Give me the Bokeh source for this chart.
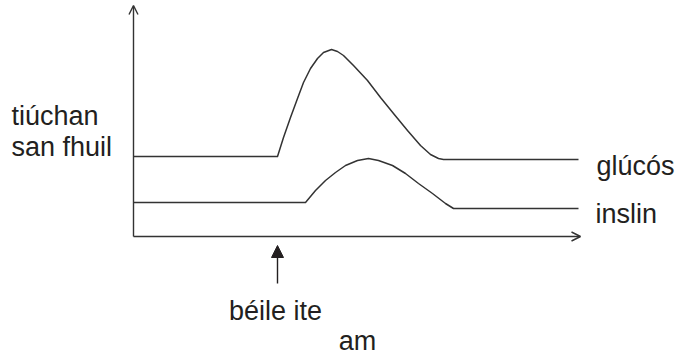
from bokeh.plotting import figure
from bokeh.models import Range1d, Arrow, OpenHead, NormalHead
from bokeh.core.properties import value
from bokeh.embed import file_html
from bokeh.resources import INLINE

# ---- data (time units / concentration units) ----
glucose_time = [0, 144, 150, 157, 164, 170, 177, 184, 190, 198, 204, 210, 220, 234,
                247, 260, 274, 287, 297, 305, 310, 445]
glucose_level = [80, 80, 99, 119, 138, 154, 168, 178, 184, 187, 185, 181, 171, 156,
                 139, 123, 106, 91, 82, 78, 77, 77]

insulin_time = [0, 172, 182, 192, 202, 212, 224, 235, 245, 259, 272, 285, 299, 312, 320, 445]
insulin_level = [34, 34, 46, 56, 64, 71, 76, 78, 76, 71, 63, 53, 43, 33, 28, 28]

series_names = ["glúcós", "inslin"]
y_label_lines = ["tiúchan", "san fhuil"]
x_label = "am"
meal_label = "béile ite"
meal_time = 144

axis_end_time = 447
axis_end_level = 231

LINE = "#333333"
TEXT = "#231f20"
FONT = value("Liberation Sans")
FS = value("27px")

p = figure(width=675, height=354, output_backend="svg", toolbar_location=None,
           x_axis_type=None, y_axis_type=None, min_border=0,
           x_range=Range1d(-133, 542), y_range=Range1d(-118, 236))
p.grid.visible = False
p.outline_line_color = None
p.background_fill_color = "white"
p.border_fill_color = "white"

# axes drawn as arrows
p.add_layout(Arrow(end=OpenHead(size=9, line_color=LINE, line_width=1.4),
                   x_start=0, y_start=0, x_end=0, y_end=axis_end_level,
                   line_color=LINE, line_width=1.4))
p.add_layout(Arrow(end=OpenHead(size=9, line_color=LINE, line_width=1.4),
                   x_start=0, y_start=0, x_end=axis_end_time, y_end=0,
                   line_color=LINE, line_width=1.4))

# curves
p.line(glucose_time, glucose_level, line_color=LINE, line_width=1.5, line_join="round")
p.line(insulin_time, insulin_level, line_color=LINE, line_width=1.5, line_join="round")

# meal arrow
p.add_layout(Arrow(end=NormalHead(size=12, fill_color=TEXT, line_color=TEXT, line_width=1),
                   x_start=meal_time, y_start=-47, x_end=meal_time, y_end=-9,
                   line_color=TEXT, line_width=1.4))

# texts
p.text(x=[-122, -122], y=[121, 90], text=y_label_lines, text_font=FONT, text_font_size=FS,
       text_color=TEXT, text_align="left", text_baseline="alphabetic")
p.text(x=[463, 462], y=[71, 23], text=series_names, text_font=FONT, text_font_size=FS,
       text_color=TEXT, text_align="left", text_baseline="alphabetic")
p.text(x=[142], y=[-74], text=[meal_label], text_font=FONT, text_font_size=FS,
       text_color=TEXT, text_align="center", text_baseline="alphabetic")
p.text(x=[224], y=[-104], text=[x_label], text_font=FONT, text_font_size=FS,
       text_color=TEXT, text_align="center", text_baseline="alphabetic")

open("out.html", "w").write(file_html(p, INLINE))
